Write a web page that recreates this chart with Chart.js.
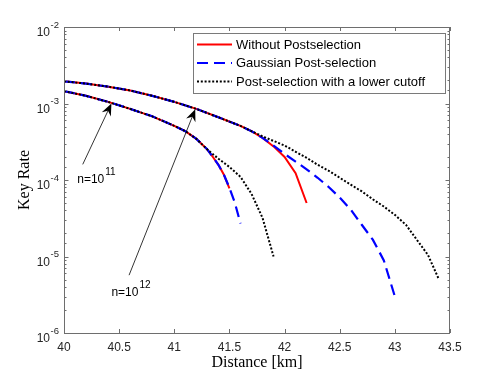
<!DOCTYPE html>
<html>
<head>
<meta charset="utf-8">
<script src="https://cdn.jsdelivr.net/npm/chart.js@4.4.1/dist/chart.umd.min.js"></script>
<style>
  html, body { margin: 0; padding: 0; background: #fff; }
  #wrap { width: 498px; height: 374px; }
</style>
</head>
<body>
<div id="wrap"><canvas id="chart" width="498" height="374"></canvas></div>
<script>
'use strict';

/* ─── Data ─────────────────────────────────────────────────── */
// upper pair of curves
const distRedTop   = [40, 40.2, 40.4, 40.6, 40.8, 41, 41.2, 41.4, 41.6, 41.7, 41.8, 41.9, 42.0, 42.1, 42.2];
const rateRedTop   = [1.95e-3, 1.82e-3, 1.66e-3, 1.48e-3, 1.26e-3, 1.05e-3, 8.5e-4, 6.6e-4, 5.1e-4, 4.35e-4, 3.55e-4, 2.75e-4, 2.0e-4, 1.23e-4, 5.0e-5];

const distBlueTop  = [40, 40.2, 40.4, 40.6, 40.8, 41, 41.2, 41.4, 41.6, 41.7, 41.8, 41.9, 42.0, 42.1, 42.2, 42.3, 42.4, 42.5, 42.6, 42.7, 42.8, 42.9, 43.0];
const rateBlueTop  = [1.95e-3, 1.82e-3, 1.66e-3, 1.48e-3, 1.26e-3, 1.05e-3, 8.5e-4, 6.6e-4, 5.1e-4, 4.35e-4, 3.55e-4, 2.82e-4, 2.19e-4, 1.74e-4, 1.38e-4, 1.07e-4, 8.1e-5, 5.9e-5, 4.1e-5, 2.6e-5, 1.66e-5, 8.9e-6, 3.0e-6];

const distBlackTop = [40, 40.2, 40.4, 40.6, 40.8, 41, 41.2, 41.4, 41.6, 41.7, 41.8, 41.9, 42.0, 42.1, 42.2, 42.3, 42.4, 42.5, 42.6, 42.7, 42.8, 42.9, 43.0, 43.1, 43.2, 43.3, 43.4];
const rateBlackTop = [1.95e-3, 1.82e-3, 1.66e-3, 1.48e-3, 1.26e-3, 1.05e-3, 8.5e-4, 6.6e-4, 5.1e-4, 4.35e-4, 3.72e-4, 3.24e-4, 2.82e-4, 2.34e-4, 1.95e-4, 1.58e-4, 1.32e-4, 1.07e-4, 8.7e-5, 7.1e-5, 5.6e-5, 4.5e-5, 3.5e-5, 2.6e-5, 1.65e-5, 1.05e-5, 5.0e-6];

// lower pair of curves
const distRedLow   = [40, 40.2, 40.4, 40.6, 40.8, 41, 41.1, 41.2, 41.3, 41.35, 41.4, 41.45, 41.5];
const rateRedLow   = [1.45e-3, 1.26e-3, 1.05e-3, 8.5e-4, 6.8e-4, 5.1e-4, 4.35e-4, 3.45e-4, 2.5e-4, 2.0e-4, 1.58e-4, 1.17e-4, 7.8e-5];

const distBlueLow  = [40, 40.2, 40.4, 40.6, 40.8, 41, 41.1, 41.2, 41.3, 41.35, 41.4, 41.45, 41.5, 41.55, 41.6];
const rateBlueLow  = [1.45e-3, 1.26e-3, 1.05e-3, 8.5e-4, 6.8e-4, 5.1e-4, 4.35e-4, 3.45e-4, 2.5e-4, 2.0e-4, 1.58e-4, 1.17e-4, 7.9e-5, 5.0e-5, 2.7e-5];

const distBlackLow = [40, 40.2, 40.4, 40.6, 40.8, 41, 41.1, 41.2, 41.3, 41.4, 41.5, 41.6, 41.7, 41.8, 41.9];
const rateBlackLow = [1.45e-3, 1.26e-3, 1.05e-3, 8.5e-4, 6.8e-4, 5.1e-4, 4.35e-4, 3.45e-4, 2.5e-4, 1.9e-4, 1.48e-4, 1.1e-4, 6.6e-5, 3.2e-5, 1.0e-5];

// ticks
const distTicks = [40, 40.5, 41, 41.5, 42, 42.5, 43, 43.5];
const rateTicks = [1e-6, 1e-5, 1e-4, 1e-3, 1e-2];

// legend + annotations
const seriesNames = ['Without Postselection', 'Gaussian Post-selection', 'Post-selection with a lower cutoff'];
const notes = [
  { base: 'n=10', exp: '11', text: [40.12, 1.07e-4], tail: [40.17, 1.6e-4], tip: [40.43, 1.0e-3] },
  { base: 'n=10', exp: '12', text: [40.43, 3.5e-6],  tail: [40.59, 5.7e-6], tip: [41.19, 8.4e-4] },
];

/* ─── Styles ───────────────────────────────────────────────── */
const SANS  = '"Liberation Sans", Arial, sans-serif';
const SERIF = '"Liberation Serif", "Times New Roman", serif';
const INK   = '#262626';
const AXIS  = '#6e6e6e';

const STYLE = {
  red:   { color: '#ff0000', dash: [],      width: 2 },
  blue:  { color: '#0000ff', dash: [11, 6], width: 2.2 },
  black: { color: '#000000', dash: [2, 1.8], width: 2 },
};

const isDecade = v => rateTicks.some(r => Math.abs(r - v) / r < 1e-6);

function series(xs, ys, st, order, label) {
  return {
    label,
    data: xs.map((x, i) => ({ x, y: ys[i] })),
    borderColor: st.color,
    borderWidth: st.width,
    borderDash: st.dash,
    borderCapStyle: 'butt',
    pointRadius: 0,
    tension: 0,
    fill: false,
    order,
  };
}

/* ─── Box, inward ticks, power labels, legend and arrows ───── */
const framePlugin = {
  id: 'frame',
  afterDatasetsDraw(chart) {
    const { ctx, chartArea: a, scales: { x, y } } = chart;
    ctx.save();

    // axis box
    ctx.strokeStyle = AXIS;
    ctx.lineWidth = 1;
    ctx.setLineDash([]);
    ctx.strokeRect(Math.round(a.left) + 0.5, Math.round(a.top) + 0.5,
                   Math.round(a.right - a.left) - 1, Math.round(a.bottom - a.top));

    // x ticks (bottom + top)
    ctx.beginPath();
    distTicks.forEach(v => {
      const px = Math.round(x.getPixelForValue(v)) + 0.5;
      ctx.moveTo(px, a.bottom); ctx.lineTo(px, a.bottom - 4);
      ctx.moveTo(px, a.top);    ctx.lineTo(px, a.top + 4);
    });
    // y ticks (left + right), majors longer
    y.ticks.forEach(t => {
      const py = Math.round(y.getPixelForValue(t.value)) + 0.5;
      const len = isDecade(t.value) ? 4.5 : 2.5;
      ctx.moveTo(a.left, py);  ctx.lineTo(a.left + len, py);
      ctx.moveTo(a.right, py); ctx.lineTo(a.right - len, py);
    });
    ctx.stroke();

    // y labels as 10 with a raised exponent
    ctx.fillStyle = INK;
    ctx.textBaseline = 'alphabetic';
    rateTicks.forEach(r => {
      const py = y.getPixelForValue(r);
      const right = a.left - 14;
      ctx.font = '12px ' + SANS;
      ctx.textAlign = 'right';
      ctx.fillText('10', right, py + 9);
      ctx.font = '9.5px ' + SANS;
      ctx.textAlign = 'left';
      ctx.fillText(String(Math.round(Math.log10(r))), right + 0.5, py + 0.8);
    });

    // legend
    const lx = 193.5, ly = 33.5, lw = 252, lh = 60;
    ctx.fillStyle = '#fff';
    ctx.fillRect(lx, ly, lw, lh);
    ctx.strokeStyle = '#7a7a7a';
    ctx.lineWidth = 1;
    ctx.strokeRect(lx, ly, lw, lh);
    const keys = [STYLE.red, STYLE.blue, STYLE.black];
    const rows = [44.5, 63, 81.5];
    ctx.font = '13px ' + SANS;
    ctx.textBaseline = 'middle';
    ctx.textAlign = 'left';
    keys.forEach((st, i) => {
      ctx.beginPath();
      ctx.strokeStyle = st.color;
      ctx.lineWidth = st.width;
      ctx.setLineDash(st.dash);
      ctx.lineCap = 'butt';
      ctx.moveTo(197, rows[i]); ctx.lineTo(232, rows[i]);
      ctx.stroke();
      ctx.fillStyle = '#000';
      ctx.fillText(seriesNames[i], 236, rows[i] + 0.5);
    });
    ctx.setLineDash([]);

    // arrows + labels
    notes.forEach(n => {
      const x0 = x.getPixelForValue(n.tail[0]), y0 = y.getPixelForValue(n.tail[1]);
      const x1 = x.getPixelForValue(n.tip[0]),  y1 = y.getPixelForValue(n.tip[1]);
      const ang = Math.atan2(y1 - y0, x1 - x0);
      const ux = Math.cos(ang), uy = Math.sin(ang);
      const L = 12, W = 5, N = 4;
      ctx.strokeStyle = '#000';
      ctx.lineWidth = 0.8;
      ctx.beginPath();
      ctx.moveTo(x0, y0);
      ctx.lineTo(x1 - (L - N) * ux, y1 - (L - N) * uy);
      ctx.stroke();
      ctx.fillStyle = '#000';
      ctx.beginPath();
      ctx.moveTo(x1, y1);
      ctx.lineTo(x1 - L * ux - W * uy, y1 - L * uy + W * ux);
      ctx.lineTo(x1 - (L - N) * ux, y1 - (L - N) * uy);
      ctx.lineTo(x1 - L * ux + W * uy, y1 - L * uy - W * ux);
      ctx.closePath();
      ctx.fill();

      const tx = x.getPixelForValue(n.text[0]);
      const ty = y.getPixelForValue(n.text[1]);
      ctx.textBaseline = 'alphabetic';
      ctx.textAlign = 'left';
      ctx.font = '12px ' + SANS;
      ctx.fillText(n.base, tx, ty + 5);
      const bw = ctx.measureText(n.base).width;
      ctx.font = '10px ' + SANS;
      ctx.fillText(n.exp, tx + bw + 1, ty - 3);
    });

    ctx.restore();
  }
};

/* ─── Chart ────────────────────────────────────────────────── */
new Chart(document.getElementById('chart'), {
  type: 'line',
  data: {
    datasets: [
      series(distRedTop,   rateRedTop,   STYLE.red,   3, seriesNames[0]),
      series(distBlueTop,  rateBlueTop,  STYLE.blue,  2, seriesNames[1]),
      series(distBlackTop, rateBlackTop, STYLE.black, 1, seriesNames[2]),
      series(distRedLow,   rateRedLow,   STYLE.red,   3, seriesNames[0]),
      series(distBlueLow,  rateBlueLow,  STYLE.blue,  2, seriesNames[1]),
      series(distBlackLow, rateBlackLow, STYLE.black, 1, seriesNames[2]),
    ]
  },
  options: {
    responsive: false,
    animation: false,
    events: [],
    layout: { padding: { top: 27, right: 48, left: 0, bottom: 0 } },
    plugins: {
      legend:  { display: false },
      tooltip: { enabled: false },
    },
    scales: {
      x: {
        type: 'linear',
        min: 40, max: 43.5,
        grid:   { display: false, drawTicks: false },
        border: { display: false },
        afterBuildTicks: s => { s.ticks = distTicks.map(v => ({ value: v })); },
        afterFit: s => { s.height = 41; },
        ticks: {
          color: INK,
          font: { family: SANS, size: 12 },
          padding: 7,
          maxRotation: 0,
          autoSkip: false,
          callback: v => String(v),
        },
        title: {
          display: true,
          text: 'Distance [km]',
          color: '#000',
          font: { family: SERIF, size: 16 },
          padding: { top: 0, bottom: 1.5 },
        },
      },
      y: {
        type: 'logarithmic',
        min: 1e-6, max: 1e-2,
        grid:   { display: false, drawTicks: false },
        border: { display: false },
        afterFit: s => { s.width = 64; },
        ticks: {
          autoSkip: false,
          callback: () => '',   // power-of-ten labels drawn by framePlugin
        },
        title: {
          display: true,
          text: 'Key Rate',
          color: '#000',
          font: { family: SERIF, size: 16 },
          padding: { top: 15, bottom: 0 },
        },
      },
    },
  },
  plugins: [framePlugin],
});
</script>
</body>
</html>
